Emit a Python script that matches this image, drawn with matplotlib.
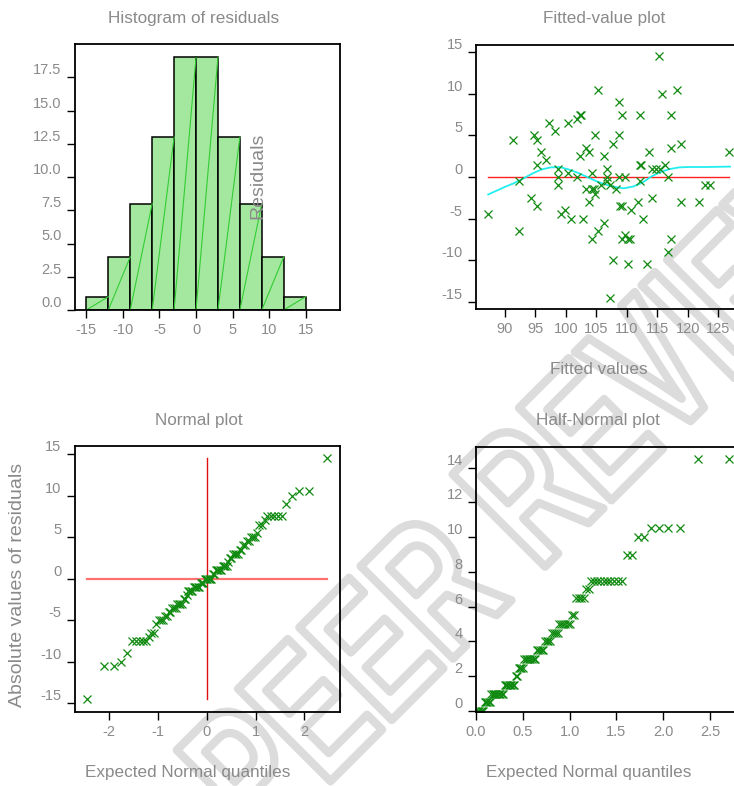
import numpy as np
import matplotlib
matplotlib.use("Agg")
import matplotlib.pyplot as plt
from matplotlib.textpath import TextPath
from matplotlib.patches import PathPatch
from matplotlib.font_manager import FontProperties
import matplotlib.transforms as mtransforms
from statistics import NormalDist

plt.rcParams['font.family'] = ['Liberation Sans', 'DejaVu Sans']
plt.rcParams['axes.unicode_minus'] = False

# histogram of residuals
hist_edges = [-15, -12, -9, -6, -3, 0, 3, 6, 9, 12, 15]
hist_counts = [1, 4, 8, 13, 19, 19, 13, 8, 4, 1]

# fitted values and residuals
fitted = [87.3, 91.4, 92.3, 92.3, 94.3, 94.8, 95.3, 95.3, 95.3, 95.9,
          96.8, 97.3, 98.3, 98.8, 98.8, 98.8, 99.3, 99.8, 100.3, 100.3,
          100.8, 101.8, 101.8, 102.3, 102.5, 102.3, 102.8, 103.3, 103.3, 103.8,
          103.8, 104.3, 104.3, 104.6, 104.3, 104.8, 104.8, 105.3, 105.3, 105.8,
          106.3, 106.3, 106.8, 106.8, 106.8, 107.3, 107.3, 107.8, 107.8, 108.3,
          108.7, 108.7, 108.7, 109.2, 109.2, 108.9, 109.2, 109.7, 109.7, 110.2,
          110.5, 110.2, 110.7, 111.8, 112.2, 112.2, 112.4, 112.2, 112.7, 113.3,
          113.7, 114.1, 114.2, 114.8, 115.2, 115.4, 115.8, 116.3, 116.8, 116.7,
          117.3, 117.3, 117.3, 118.2, 118.8, 118.8, 121.8, 122.8, 123.7, 126.7]
residuals = [-4.5, 4.5, -0.5, -6.5, -2.5, 5, 4.5, 1.5, -3.5, 3,
             2, 6.5, 5.5, 1, 0, -1, -4.5, -4, 6.5, 0.5,
             -5, 0, 7, 7.5, 7.5, 2.5, -5, 3.5, -1.5, 3,
             -3, 0.5, -1.5, -1.5, -7.5, 5, -2, -6.5, 10.5, -1,
             2.5, -5.5, 1, 0, -0.5, -1, -14.5, 4, -10, -1.5,
             9, 5, 0, 7.5, -3.5, -3.5, -7.5, 0, -7, -7.5,
             -7.5, -10.5, -4, -3, 7.5, 1.5, 1.5, -0.5, -5, -10.5,
             3, 1, -2.5, 1, 14.5, 1, 10, 1.5, 0, -9,
             7.5, 3.5, -7.5, 10.5, 4, -3, -3, -1, -1, 3]

# smooth curve through the residuals
smooth_x = [87.3, 88.5, 90.0, 91.5, 93.0, 94.5, 96.0, 97.5, 99.0, 100.5,
            102.0, 103.5, 105.0, 106.5, 108.0, 109.5, 111.0, 112.5, 114.0, 115.5,
            117.0, 118.5, 120.0, 123.0, 126.9]
smooth_y = [-2.1, -1.7, -1.2, -0.75, -0.2, 0.4, 0.9, 1.15, 1.2, 0.9,
            0.5, 0.0, -0.5, -0.9, -1.2, -1.36, -1.15, -0.7, 0.05, 0.6,
            0.95, 1.15, 1.2, 1.2, 1.25]

W, H = 734, 786
GRAY = '#8a8a8a'
GREEN = '#108a10'


def box(l, t, r, b):
    return [l / W, 1 - b / H, (r - l) / W, (b - t) / H]


def style(ax):
    ax.set_facecolor('none')
    for s in ax.spines.values():
        s.set_linewidth(1.3)
    ax.tick_params(direction='out', length=6, width=1, colors='black',
                   labelcolor=GRAY, labelsize=10.5, pad=3.5)
    for lab in ax.get_yticklabels():
        lab.set_verticalalignment('bottom')


def ftext(x, y, s, size, rot=0):
    fig.text(x / W, 1 - y / H, s, ha='center', va='center', color=GRAY,
             fontsize=size, rotation=rot, rotation_mode='anchor')


fig = plt.figure(figsize=(W / 100, H / 100), dpi=100)

# outlined watermark behind the plots: tall letters, anchored on the "P"
tp = TextPath((0, 0), 'PEER REVIEW', size=100,
              prop=FontProperties(family='Liberation Sans', weight='bold'))
wm_tr = (mtransforms.Affine2D().translate(-33, -36).scale(1.3, 1.9)
         .rotate_deg(45).translate(245, H - 770))
fig.add_artist(PathPatch(tp, facecolor='none', edgecolor='#dcdcdc', lw=6,
                         joinstyle='round', capstyle='round',
                         transform=wm_tr, zorder=-5))

# histogram
ax1 = fig.add_axes(box(74.7, 44, 340, 310))
lefts = np.array(hist_edges[:-1])
widths = np.diff(hist_edges)
ax1.bar(lefts, hist_counts, width=widths, align='edge', color='#a4e8a0',
        edgecolor='black', linewidth=1.1)
for l, w, c in zip(lefts, widths, hist_counts):
    ax1.plot([l, l + w], [0, c], color='#33cc33', lw=0.8)
ax1.set_xlim(-16.6, 19.7)
ax1.set_ylim(0, 20)
ax1.set_xticks(range(-15, 16, 5))
ax1.set_yticks(np.arange(0, 17.6, 2.5))
ax1.set_yticklabels(['%.1f' % v for v in np.arange(0, 17.6, 2.5)])
style(ax1)

# fitted-value plot
ax2 = fig.add_axes(box(476, 44.7, 741, 309.3))
ax2.plot([min(fitted), max(fitted)], [0, 0], color='#ff2020', lw=1)
ax2.plot(smooth_x, smooth_y, color='#22eeee', lw=1.3)
ax2.plot(fitted, residuals, 'x', color=GREEN, ms=6, mew=0.9)
ax2.set_xlim(85.3, 128.7)
ax2.set_ylim(-15.9, 15.9)
ax2.set_xticks(range(90, 126, 5))
ax2.set_yticks(range(-15, 16, 5))
style(ax2)

# normal plot
res_sorted = np.sort(residuals)
n = len(res_sorted)
nd = NormalDist()
q_norm = np.array([nd.inv_cdf((i - 0.375) / (n + 0.25)) for i in range(1, n + 1)])
ax3 = fig.add_axes(box(74.7, 446, 340, 712))
ax3.plot([q_norm.min(), q_norm.max()], [0, 0], color='#ff7070', lw=1.6)
ax3.plot([0, 0], [res_sorted.min(), res_sorted.max()], color='#e01010', lw=1)
ax3.plot(q_norm, res_sorted, 'x', color=GREEN, ms=6, mew=0.9)
ax3.set_xlim(-2.705, 2.73)
ax3.set_ylim(-16.05, 15.96)
ax3.set_xticks(range(-2, 3))
ax3.set_yticks(range(-15, 16, 5))
style(ax3)

# half-normal plot
abs_sorted = np.sort(np.abs(residuals))
q_half = np.array([nd.inv_cdf(0.5 + 0.5 * (i - 0.375) / (n + 0.25)) for i in range(1, n + 1)])
ax4 = fig.add_axes(box(476, 446.7, 741, 711.7))
ax4.plot(q_half, abs_sorted, 'x', color=GREEN, ms=6, mew=0.9)
ax4.set_xlim(0, 2.83)
ax4.set_ylim(-0.04, 15.2)
ax4.set_xticks(np.arange(0, 2.6, 0.5))
ax4.set_xticklabels(['%.1f' % v for v in np.arange(0, 2.6, 0.5)])
ax4.set_yticks(range(0, 15, 2))
style(ax4)

# titles and labels, placed as in the original layout
ftext(194, 18, 'Histogram of residuals', 12.3)
ftext(604, 18, 'Fitted-value plot', 12.3)
ftext(199, 420, 'Normal plot', 12.3)
ftext(598, 420, 'Half-Normal plot', 12.3)
ftext(599, 370, 'Fitted values', 12.3)
ftext(188, 773, 'Expected Normal quantiles', 12.3)
ftext(589, 773, 'Expected Normal quantiles', 12.3)
ftext(258, 176, 'Residuals', 14, 90)
ftext(18, 585, 'Absolute values of residuals', 14, 90)

fig.savefig('out.png', dpi=100)
